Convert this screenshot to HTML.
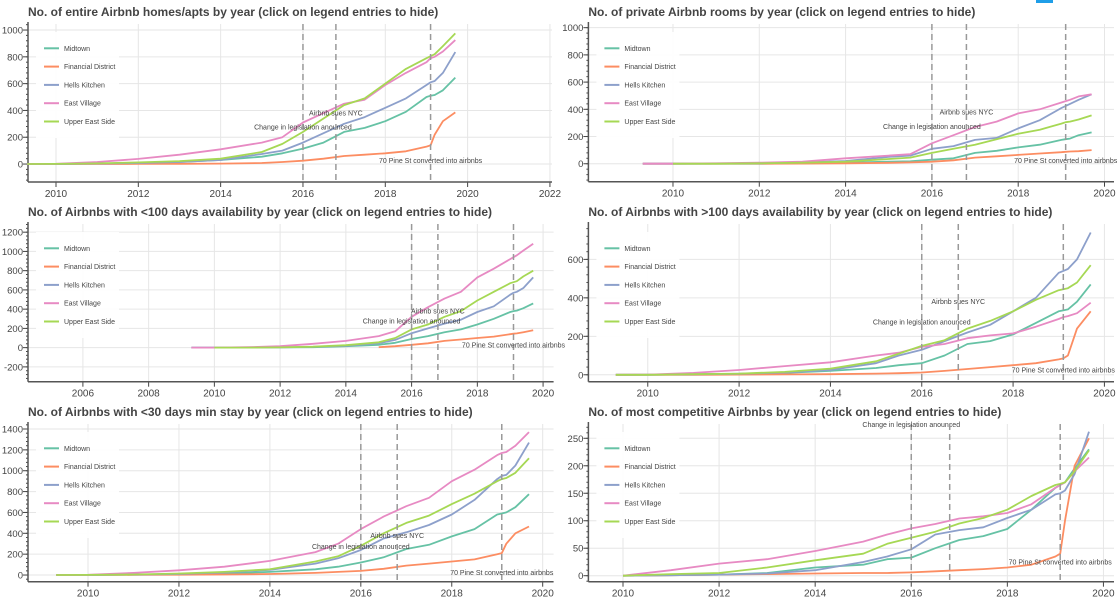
<!DOCTYPE html>
<html><head><meta charset="utf-8">
<style>
html,body{margin:0;padding:0;background:#fff;}
svg{display:block;font-family:"Liberation Sans",sans-serif;}
</style></head>
<body>
<svg id="c" width="1117" height="605" viewBox="0 0 1117 605">
<rect x="1036" y="0" width="17" height="3" fill="#1f9ee8"/>
</svg>
<script>
const dates = [2009.3,2010,2011,2012,2013,2014,2015,2015.5,2016,2016.5,2017,2017.5,2018,2018.5,2019,2019.1,2019.2,2019.4,2019.7];
const neighbourhoods = ["Midtown","Financial District","Hells Kitchen","East Village","Upper East Side"];
const eventDates = [2016.0,2016.8,2019.1];
const eventLabels = ["Change in legislation anounced","Airbnb sues NYC","70 Pine St converted into airbnbs"];
const eventLabelValues = [275,380,25];

const homesMidtown = [0,0,3,8,15,30,55,80,115,160,240,270,320,390,500,510,515,550,645];
const homesFidi = [0,0,0,1,2,3,8,15,25,40,60,70,80,95,130,140,220,320,385];
const homesHells = [0,0,3,8,15,30,75,100,160,230,300,350,420,490,590,610,620,680,835];
const homesEast = [0,2,15,38,70,110,160,200,310,380,450,480,590,680,760,790,800,840,925];
const homesUes = [0,1,5,12,22,40,90,150,240,340,440,490,600,710,790,805,820,880,975];

const roomsMidtown = [0,0,0,0,3,8,15,18,30,40,80,95,120,140,175,180,185,210,230];
const roomsFidi = [0,0,0,0,1,3,7,10,15,25,45,55,65,75,85,88,90,92,100];
const roomsHells = [0,0,1,3,10,20,50,60,110,130,175,190,260,320,410,425,440,470,510];
const roomsEast = [0,0,3,8,15,40,60,70,150,210,270,310,370,400,450,460,470,495,510];
const roomsUes = [null,0,0,3,8,15,35,45,80,110,140,180,220,250,295,305,310,325,355];

const lowAvailMidtown = [0,0,1,3,5,15,30,50,90,120,160,190,240,300,370,380,385,410,460];
const lowAvailFidi = [null,null,null,null,null,null,5,15,30,45,70,85,100,115,140,145,148,160,180];
const lowAvailHells = [0,0,1,3,8,20,45,80,150,200,250,290,370,430,550,570,580,620,730];
const lowAvailEast = [0,0,5,15,40,70,120,170,320,420,510,580,730,820,920,940,960,1010,1080];
const lowAvailUes = [null,0,0,3,10,25,55,100,190,240,320,380,490,580,670,680,690,740,800];

const highAvailMidtown = [0,1,3,5,10,20,35,50,60,100,160,175,210,270,330,335,340,380,470];
const highAvailFidi = [0,0,0,1,2,3,6,8,12,20,30,40,50,60,80,85,100,240,330];
const highAvailHells = [0,0,2,5,12,25,60,100,130,175,220,260,330,400,530,540,550,600,740];
const highAvailEast = [0,1,10,25,45,65,100,115,145,160,190,205,215,250,290,300,305,320,375];
const highAvailUes = [0,0,3,6,15,32,70,110,150,180,240,280,330,390,440,445,450,480,570];

const minStayMidtown = [0,0,3,8,15,30,55,80,120,170,250,290,370,440,580,590,600,650,775];
const minStayFidi = [0,0,1,3,5,10,20,30,40,60,90,110,130,150,200,210,300,400,465];
const minStayHells = [0,0,4,10,25,50,110,160,240,350,410,480,580,720,920,950,960,1050,1270];
const minStayEast = [0,2,20,45,80,135,220,300,440,560,660,740,900,1010,1150,1170,1180,1240,1370];
const minStayUes = [0,1,5,15,30,55,130,180,280,400,500,570,680,780,900,920,930,980,1120];

const compMidtown = [null,0,1,2,5,15,20,30,33,50,65,72,85,120,160,165,170,195,230];
const compFidi = [null,0,1,2,3,4,5,5,6,8,10,12,15,20,35,40,100,200,250];
const compHells = [null,0,1,2,4,10,25,35,48,75,83,88,105,120,148,150,155,185,262];
const compEast = [null,0,10,22,30,45,62,75,86,94,104,108,114,130,160,165,170,190,215];
const compUes = [null,0,3,5,15,28,40,58,69,80,95,105,120,145,165,167,170,190,228];

const colors = ["#66c2a5","#fc8d62","#8da0cb","#e78ac3","#a6d854"];
const NS = "http://www.w3.org/2000/svg";
const svg = document.getElementById("c");

const panels = [
 {key:"homes",title:"No. of entire Airbnb homes/apts by year (click on legend entries to hide)",ox:0,oy:0,left:28,right:552,top:24,bottom:182,x0:2009.32,x1:2022.05,y0:-134,y1:1045,yt:[0,200,400,600,800,1000],xt:[2010,2012,2014,2016,2018,2020,2022],series:[homesMidtown,homesFidi,homesHells,homesEast,homesUes]},
 {key:"rooms",title:"No. of private Airbnb rooms by year (click on legend entries to hide)",ox:557,oy:0,left:31.4,right:557,top:24,bottom:181.7,x0:2008.04,x1:2020.22,y0:-132,y1:1027,yt:[0,200,400,600,800,1000],xt:[2010,2012,2014,2016,2018,2020],series:[roomsMidtown,roomsFidi,roomsHells,roomsEast,roomsUes]},
 {key:"low-availability",title:"No. of Airbnbs with <100 days availability by year (click on legend entries to hide)",ox:0,oy:200,left:28,right:553.6,top:24,bottom:181.7,x0:2004.33,x1:2020.32,y0:-354,y1:1285,yt:[-200,0,200,400,600,800,1000,1200],xt:[2006,2008,2010,2012,2014,2016,2018,2020],series:[lowAvailMidtown,lowAvailFidi,lowAvailHells,lowAvailEast,lowAvailUes]},
 {key:"high-availability",title:"No. of Airbnbs with >100 days availability by year (click on legend entries to hide)",ox:557,oy:200,left:31.4,right:557,top:24,bottom:181.7,x0:2008.7,x1:2020.21,y0:-36,y1:784,yt:[0,200,400,600],xt:[2010,2012,2014,2016,2018,2020],series:[highAvailMidtown,highAvailFidi,highAvailHells,highAvailEast,highAvailUes]},
 {key:"min-stay",title:"No. of Airbnbs with <30 days min stay by year (click on legend entries to hide)",ox:0,oy:400,left:28,right:553.6,top:24,bottom:181.7,x0:2008.68,x1:2020.24,y0:-64,y1:1448,yt:[0,200,400,600,800,1000,1200,1400],xt:[2010,2012,2014,2016,2018,2020],series:[minStayMidtown,minStayFidi,minStayHells,minStayEast,minStayUes]},
 {key:"competitive",title:"No. of most competitive Airbnbs by year (click on legend entries to hide)",ox:557,oy:400,left:31.4,right:557,top:24,bottom:181.7,x0:2009.28,x1:2020.22,y0:-10.9,y1:276,yt:[0,50,100,150,200,250],xt:[2010,2012,2014,2016,2018,2020],series:[compMidtown,compFidi,compHells,compEast,compUes]}
];

function mk(tag, attrs, parent){
  const e=document.createElementNS(NS,tag);
  for(const k in attrs) e.setAttribute(k,attrs[k]);
  (parent||svg).appendChild(e);
  return e;
}

panels.forEach(p=>{
  const g=mk("g",{transform:`translate(${p.ox},${p.oy})`});
  
  
  const sx=v=>p.left+(v-p.x0)/(p.x1-p.x0)*(p.right-p.left);
  const sy=v=>p.bottom-(v-p.y0)/(p.y1-p.y0)*(p.bottom-p.top);
  const t=mk("text",{x:p.left,y:16,"font-size":"12","font-weight":"bold",fill:"#444"},g);
  t.textContent=p.title;
  
  
  p.xt.forEach(v=>{
    const x=sx(v);
    const l=mk("line",{x1:x,x2:x,y1:p.top,y2:p.bottom,stroke:"#e6e6e6","stroke-width":1},g);
    
    
    const tk=mk("line",{x1:x,x2:x,y1:p.bottom,y2:p.bottom+5,stroke:"#444"},g);
    
    
    const tl=mk("text",{x:x,y:p.bottom+15,"font-size":"10","text-anchor":"middle",fill:"#444"},g);
    tl.textContent=v;
    
    
  });
  const step=p.yt[1]-p.yt[0];
  for(let v=Math.ceil(p.y0/(step/5))*(step/5); v<=p.y1; v+=step/5){
    const y=sy(v);
    const mt=mk("line",{x1:p.left-2,x2:p.left,y1:y,y2:y,stroke:"#444"},g);
    
    
  }
  p.yt.forEach(v=>{
    const y=sy(v);
    const l=mk("line",{x1:p.left,x2:p.right,y1:y,y2:y,stroke:"#e6e6e6","stroke-width":1},g);
    
    
    const tk=mk("line",{x1:p.left-5,x2:p.left,y1:y,y2:y,stroke:"#444"},g);
    
    
    const tl=mk("text",{x:p.left-5,y:y+3.5,"font-size":"9.5","text-anchor":"end",fill:"#444"},g);
    tl.textContent=v;
    
    
  });
  const ax=mk("line",{x1:p.left,x2:p.right,y1:p.bottom,y2:p.bottom,stroke:"#555","stroke-width":1.5},g);
  
  
  const ay=mk("line",{x1:p.left,x2:p.left,y1:p.top-2,y2:p.bottom,stroke:"#555","stroke-width":1.5},g);
  
  
  p.series.forEach((s,i)=>{
    let d="",pen=false;
    s.forEach((v,j)=>{
      if(v===null){pen=false;return;}
      d+=(pen?"L":"M")+sx(dates[j]).toFixed(1)+","+sy(v).toFixed(1);
      pen=true;
    });
    const path=mk("path",{d:d,fill:"none",stroke:colors[i],"stroke-width":1.8,"stroke-linejoin":"round"},g);
    
    
  });
  eventDates.forEach((ev,i)=>{
    const x=sx(ev);
    const l=mk("line",{x1:x,x2:x,y1:p.top,y2:p.bottom,stroke:"#999","stroke-width":1.5,"stroke-dasharray":"6,4"},g);
    
    
    const yv=eventLabelValues[i];
    if(yv<=p.y1){
      const tx=mk("text",{x:x,y:sy(yv)+2.5,"font-size":"7","text-anchor":"middle",fill:"#444"},g);
      tx.textContent=eventLabels[i];
      
      
    }
  });
  const lg=mk("g",{},g);
  
  
  mk("rect",{x:p.left+8,y:32,width:83,height:106,fill:"#fff",opacity:0.95},lg);
  neighbourhoods.forEach((n,i)=>{
    const y=48.3+i*18.3;
    const e=mk("g",{},lg);
    
    
    mk("line",{x1:p.left+16,x2:p.left+31,y1:y,y2:y,stroke:colors[i],"stroke-width":2},e);
    const tx=mk("text",{x:p.left+36,y:y+2.5,"font-size":"7",fill:"#444"},e);
    tx.textContent=n;
  });
});
</script>
</body></html>
